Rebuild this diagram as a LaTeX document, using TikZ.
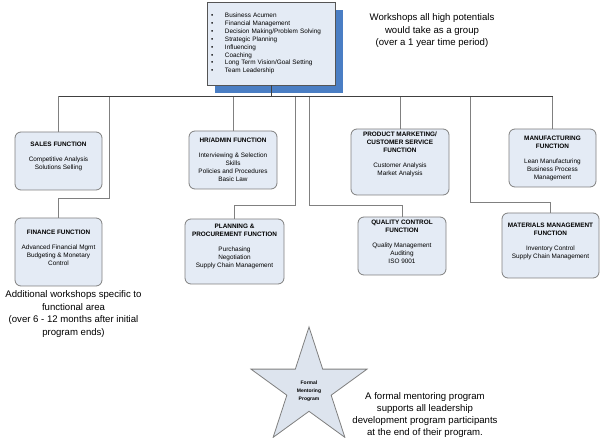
\documentclass[tikz,border=0pt]{standalone}
\usepackage{fontspec}
\setmainfont{Liberation Sans}
\usetikzlibrary{shapes.geometric,shadows}
\definecolor{boxfill}{HTML}{E4EBF5}
\definecolor{boxline}{HTML}{7F7F7F}
\definecolor{topline}{HTML}{555555}
\definecolor{shadowblue}{HTML}{4A7EC4}
\definecolor{starfill}{HTML}{DDE4EE}
\definecolor{busline}{HTML}{404040}
\definecolor{branchline}{HTML}{808080}
\begin{document}
\begin{tikzpicture}[x=1pt,y=-1pt,
  fnbox/.style={draw=boxline, fill=boxfill, rounded corners=6pt, line width=0.8pt, inner sep=0pt},
  fntext/.style={align=center, font=\fontsize{6.4}{8}\selectfont, inner sep=0pt},
  topbox/.style={draw=topline, fill=boxfill, line width=0.8pt, inner sep=0pt, align=left,
    text width=120pt, minimum width=128pt, minimum height=83pt,
    font=\fontsize{6.4}{7.9}\selectfont,
    drop shadow={shadow xshift=8pt, shadow yshift=-8pt, fill=shadowblue, opacity=1, draw=none}},
  note/.style={align=center, font=\fontsize{9.6}{12.5}\selectfont, inner sep=0pt},
  branch/.style={draw=branchline, line width=0.8pt},
  bus/.style={draw=busline, line width=0.9pt},
  starbox/.style={star, star points=5, star point ratio=2.618, minimum size=122pt,
    draw=boxline, fill=starfill, line width=0.8pt, inner sep=0pt},
  startext/.style={align=center, font=\fontsize{5}{8}\selectfont\bfseries, inner sep=0pt}
]
\useasboundingbox (0,0) rectangle (600,438);

% top box
\node[topbox] (top) at (271,43.5) {%
\makebox[14pt][l]{•}Business Acumen\\
\makebox[14pt][l]{•}Financial Management\\
\makebox[14pt][l]{•}Decision Making/Problem Solving\\
\makebox[14pt][l]{•}Strategic Planning\\
\makebox[14pt][l]{•}Influencing\\
\makebox[14pt][l]{•}Coaching\\
\makebox[14pt][l]{•}Long Term Vision/Goal Setting\\
\makebox[14pt][l]{•}Team Leadership};

% function boxes
\node[fnbox, minimum width=87pt, minimum height=58pt] (sales) at (58.5,161) {};
\node[fntext] (salesT) at (58.5,156) {{\bfseries SALES FUNCTION}\\[7pt]Competitive Analysis\\Solutions Selling};

\node[fnbox, minimum width=88pt, minimum height=58pt] (hr) at (233,160) {};
\node[fntext] (hrT) at (233,160) {{\bfseries HR/ADMIN FUNCTION}\\[7pt]Interviewing \& Selection\\Skills\\Policies and Procedures\\Basic Law};

\node[fnbox, minimum width=98pt, minimum height=66pt] (pm) at (400,162) {};
\node[fntext] (pmT) at (400,154) {{\bfseries PRODUCT MARKETING/}\\{\bfseries CUSTOMER SERVICE}\\{\bfseries FUNCTION}\\[7pt]Customer Analysis\\Market Analysis};

\node[fnbox, minimum width=87pt, minimum height=58pt] (manuf) at (552.5,158) {};
\node[fntext] (manufT) at (552.5,158) {{\bfseries MANUFACTURING}\\{\bfseries FUNCTION}\\[7pt]Lean Manufacturing\\Business Process\\Management};

\node[fnbox, minimum width=87pt, minimum height=68pt] (finance) at (58.5,252) {};
\node[fntext] (financeT) at (58.5,248) {{\bfseries FINANCE FUNCTION}\\[7pt]Advanced Financial Mgmt\\Budgeting \& Monetary\\Control};

\node[fnbox, minimum width=99pt, minimum height=65pt] (planning) at (234.5,251.5) {};
\node[fntext] (planningT) at (234.5,246.5) {{\bfseries PLANNING \&}\\{\bfseries PROCUREMENT FUNCTION}\\[7pt]Purchasing\\Negotiation\\Supply Chain Management};

\node[fnbox, minimum width=88pt, minimum height=58pt] (quality) at (402,246) {};
\node[fntext] (qualityT) at (402,241.5) {{\bfseries QUALITY CONTROL}\\{\bfseries FUNCTION}\\[7pt]Quality Management\\Auditing\\ISO 9001};

\node[fnbox, minimum width=97pt, minimum height=65pt] (materials) at (550.5,245.5) {};
\node[fntext] (materialsT) at (550.5,241) {{\bfseries MATERIALS MANAGEMENT}\\{\bfseries FUNCTION}\\[7pt]Inventory Control\\Supply Chain Management};

% connectors
\coordinate (busL) at (58.5,96);
\coordinate (busR) at (552.5,96);
\coordinate (finJ) at (109,96);   \coordinate (finK) at (109,198);
\coordinate (planJ) at (295,96);  \coordinate (planK) at (295,205);
\coordinate (qualJ) at (309,96);  \coordinate (qualK) at (309,205);
\coordinate (matJ) at (470,96);   \coordinate (matK) at (470,202);

\draw[branch] (sales.north) -- (sales.north |- busL);
\draw[branch] (hr.north) -- (hr.north |- busL);
\draw[branch] (pm.north) -- (pm.north |- busL);
\draw[branch] (manuf.north) -- (manuf.north |- busL);
\draw[branch] (finJ) -- (finK) -| (finance.north);
\draw[branch] (planJ) -- (planK) -| (planning.north);
\draw[branch] (qualJ) -- (qualK) -| (quality.north);
\draw[branch] (matJ) -- (matK) -| (materials.north);
\draw[bus] (busL) -- (busR);
\draw[bus] (top.south) -- (top.south |- busL);

% notes
\node[note] (notetop) at (432,31) {Workshops all high potentials\\would take as a group\\(over a 1 year time period)};
\node[note] (noteleft) at (73.5,314) {Additional workshops specific to\\functional area\\(over 6 - 12 months after initial\\program ends)};
\node[note, font=\fontsize{9.6}{12}\selectfont] (notestar) at (425,415) {A formal mentoring program\\supports all leadership\\development program participants\\at the end of their program.};

% star
\node[starbox] (star) at (309,388) {};
\node[startext] (starT) at (309,391) {Formal\\Mentoring\\Program};
\end{tikzpicture}
\end{document}
